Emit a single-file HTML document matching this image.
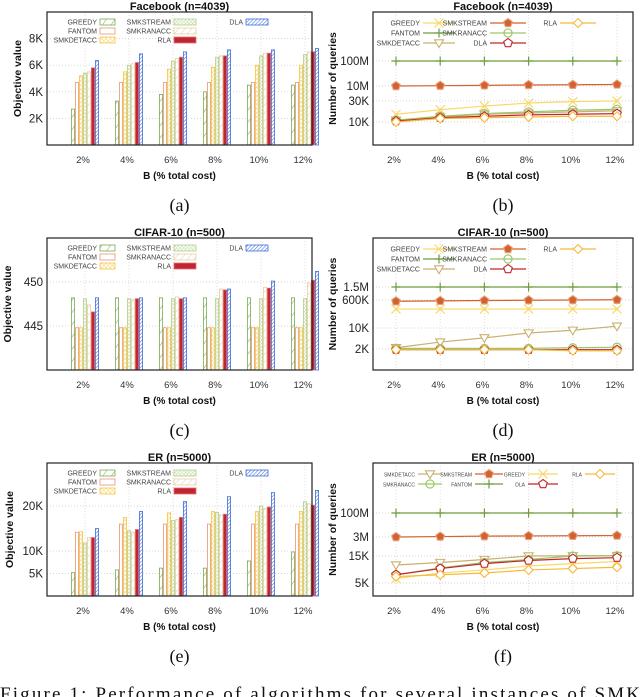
<!DOCTYPE html>
<html><head><meta charset="utf-8"><style>
html,body{margin:0;padding:0;background:#fff;width:640px;height:697px;overflow:hidden}
svg{display:block;font-family:"Liberation Sans",sans-serif}
</style></head><body>
<svg id="fig" width="640" height="697" viewBox="0 0 640 697" xmlns="http://www.w3.org/2000/svg">
<defs>
<pattern id="pGreedy" width="7" height="7" patternUnits="userSpaceOnUse" patternTransform="rotate(35)"><rect width="7" height="7" fill="#fff"/><line x1="0" y1="0" x2="0" y2="7" stroke="#7aab52" stroke-width="1"/></pattern>
<pattern id="pDet" width="3" height="3" patternUnits="userSpaceOnUse" patternTransform="rotate(45)"><rect width="3" height="3" fill="#fff"/><path d="M0 0H3M0 0V3" stroke="#f5c540" stroke-width="0.8"/></pattern>
<pattern id="pStream" width="2.5" height="2.5" patternUnits="userSpaceOnUse" patternTransform="rotate(45)"><rect width="2.5" height="2.5" fill="#fff"/><path d="M0 0H2.5M0 0V2.5" stroke="#b3d08c" stroke-width="0.8"/></pattern>
<pattern id="pRan" width="5" height="5" patternUnits="userSpaceOnUse" patternTransform="rotate(40)"><rect width="5" height="5" fill="#fff"/><line x1="0" y1="0" x2="0" y2="5" stroke="#e6cfa2" stroke-width="1"/></pattern>
<pattern id="pDla" width="2.6" height="2.6" patternUnits="userSpaceOnUse" patternTransform="rotate(45)"><rect width="2.6" height="2.6" fill="#fff"/><line x1="0" y1="0" x2="0" y2="2.6" stroke="#3d6fd9" stroke-width="1.1"/></pattern>
</defs>
<g id="root"></g>
<text x="0" y="700" font-family="Liberation Serif, serif" font-size="19" fill="#111" textLength="640" lengthAdjust="spacing">Figure 1:  Performance of algorithms for several instances of SMK</text>
</svg>
<script>
const NS='http://www.w3.org/2000/svg';
const root=document.getElementById('root');
function mk(tag,attrs,parent,text){const e=document.createElementNS(NS,tag);for(const k in attrs)e.setAttribute(k,attrs[k]);if(text!==undefined)e.textContent=text;(parent||root).appendChild(e);return e;}

const cats=['2%','4%','6%','8%','10%','12%'];

// (a) Facebook objective values
const fbObjGreedy=[2700,3300,3800,4000,4500,4500];
const fbObjFantom=[4700,4700,4700,4700,4700,4700];
const fbObjDet=[5200,5500,5700,5850,6000,6000];
const fbObjStream=[5400,6000,6300,6600,6700,6800];
const fbObjRan=[5500,6100,6500,6700,6900,7000];
const fbObjRla=[5800,6200,6600,6700,6900,7000];
const fbObjDla=[6350,6850,7000,7150,7150,7250];
const fbObjTicks=[2000,4000,6000,8000];
const fbObjTickLabels=['2K','4K','6K','8K'];

// (c) CIFAR-10 objective values
const cfObjGreedy=[448.2,448.2,448.2,448.2,448.2,448.2];
const cfObjFantom=[444.8,444.8,444.8,444.8,444.8,444.8];
const cfObjDet=[444.8,444.8,444.8,444.8,444.8,444.8];
const cfObjStream=[448.1,448.1,448.1,448.1,448.1,448.1];
const cfObjRan=[447.4,448.0,448.3,449.2,449.4,449.9];
const cfObjRla=[446.6,448.1,448.1,449.1,449.3,450.2];
const cfObjDla=[448.2,448.2,448.2,449.2,450.1,451.2];
const cfObjTicks=[445,450];
const cfObjTickLabels=['445','450'];

// (e) ER objective values
const erObjGreedy=[5200,5800,6200,6200,7800,9800];
const erObjFantom=[14200,16000,16000,16000,16000,16000];
const erObjDet=[14300,17500,18500,18800,18800,18800];
const erObjStream=[11800,14500,16800,18600,20000,21000];
const erObjRan=[13000,14200,17000,18000,19500,20500];
const erObjRla=[13000,14800,17500,18200,19800,20200];
const erObjDla=[15000,18800,21000,22100,23000,23500];
const erObjTicks=[5000,10000,20000];
const erObjTickLabels=['5K','10K','20K'];

// (b) Facebook queries
const fbQGreedy=[15000,19000,23000,27000,29000,31000];
const fbQFantom=[1e8,1e8,1e8,1e8,1e8,1e8];
const fbQDet=[11000,13000,15000,16000,17000,18000];
const fbQStream=[1e7,1.03e7,1.06e7,1.1e7,1.12e7,1.15e7];
const fbQRan=[11000,13500,15500,17000,18500,19500];
const fbQDla=[10500,12500,13500,14500,15000,15500];
const fbQRla=[10000,12000,12500,13000,13500,13500];
const fbQTicks=[10000,30000,1e7,1e8];
const fbQTickLabels=['10K','30K','10M','100M'];

// (d) CIFAR-10 queries
const cfQGreedy=[160000,160000,160000,160000,160000,160000];
const cfQFantom=[1.5e6,1.5e6,1.5e6,1.5e6,1.5e6,1.5e6];
const cfQDet=[2200,3400,4700,6800,8400,13000];
const cfQStream=[500000,530000,560000,580000,600000,610000];
const cfQRan=[2100,2100,2100,2100,2200,2300];
const cfQDla=[1900,1900,1900,1900,1900,1900];
const cfQRla=[1900,1900,1900,1900,1750,1750];
const cfQTicks=[2000,10000,600000,1.5e6];
const cfQTickLabels=['2K','10K','600K','1.5M'];

// (f) ER queries
const erQGreedy=[6000,7500,8500,10000,11000,12000];
const erQFantom=[1e8,1e8,1e8,1e8,1e8,1e8];
const erQDet=[10400,11500,13000,15000,16000,17000];
const erQStream=[3e6,3.2e6,3.4e6,3.5e6,3.6e6,3.7e6];
const erQRan=[7000,9200,11500,13000,15000,16000];
const erQDla=[7000,9000,11000,12500,13500,14000];
const erQRla=[6500,7000,7500,8500,9000,9500];
const erQTicks=[5000,15000,3e6,1e8];
const erQTickLabels=['5K','15K','3M','100M'];

// ---- axis functions ----
function lin(d0,d1,r0,r1){return v=>r0+(v-d0)/(d1-d0)*(r1-r0);}
function pwlog(vals,pxs){const L=vals.map(v=>Math.log10(v));return v=>{const l=Math.log10(v);let i=0;while(i<L.length-2&&l>L[i+1])i++;return pxs[i]+(l-L[i])/(L[i+1]-L[i])*(pxs[i+1]-pxs[i]);};}

const barStyles={
 GREEDY:{fill:'url(#pGreedy)',stroke:'#7aab52'},
 FANTOM:{fill:'#fff',stroke:'#e8957a'},
 SMKDETACC:{fill:'url(#pDet)',stroke:'#f5c540'},
 SMKSTREAM:{fill:'url(#pStream)',stroke:'#b3d08c'},
 SMKRANACC:{fill:'url(#pRan)',stroke:'#e6cfa2'},
 RLA:{fill:'#c1262f',stroke:'#e0707a'},
 DLA:{fill:'url(#pDla)',stroke:'#3d6fd9'}
};
const lineStyles={
 GREEDY:{c:'#f8d96a',m:'x'},FANTOM:{c:'#6e9e3c',m:'plus'},SMKDETACC:{c:'#c9b070',m:'tri'},
 SMKSTREAM:{c:'#d2622e',m:'pentF'},SMKRANACC:{c:'#9dc66b',m:'circ'},DLA:{c:'#c1262f',m:'pent'},RLA:{c:'#f5b93a',m:'diam'}
};

function frame(p){
 const g=mk('g',{});
 p.g=g;
 // grid
 p.ticks.forEach((t,i)=>{const y=p.y(t);
  const gl=mk('line',{x1:p.x0,x2:p.x1,y1:y,y2:y,stroke:'#c8c8c8','stroke-width':0.7,'stroke-dasharray':'1,2'},g);
  
  const tl=mk('text',{x:p.x0-4,y:y+4,'text-anchor':'end','font-size':11.5,fill:'#222'},g,p.tickLabels[i]);
  
 });
 cats.forEach((c,i)=>{const x=p.cx(i);
  const vl=mk('line',{x1:x,x2:x,y1:p.y0,y2:p.y1,stroke:'#d0d0d0','stroke-width':0.7,'stroke-dasharray':'1,2'},g);
  
  const xl=mk('text',{x:x-2,y:p.y1+18,'text-anchor':'middle','font-size':9.5,fill:'#333'},g,c);
  
 });
 const mid=(p.x0+p.x1)/2;
 const t=mk('text',{x:mid,y:p.y0-2,'text-anchor':'middle','font-size':11,'font-weight':'bold',fill:'#111'},g,p.title);
 
 const xt=mk('text',{x:mid,y:p.y1+34,'text-anchor':'middle','font-size':10,'font-weight':'bold',fill:'#111'},g,'B (% total cost)');
 
 const yt=mk('text',{x:p.ytx,y:(p.y0+p.y1)/2,'text-anchor':'middle','font-size':10.5,'font-weight':'bold',fill:'#111',transform:`rotate(-90 ${p.ytx} ${(p.y0+p.y1)/2})`},g,p.ytitle);
 
 const lt=mk('text',{x:mid,y:p.y1+66,'text-anchor':'middle','font-size':18,'font-family':'Liberation Serif, serif',fill:'#111'},g,p.letter);
 
}
function box(p){const b=mk('rect',{x:p.x0,y:p.y0,width:p.x1-p.x0,height:p.y1-p.y0,fill:'none',stroke:'#222','stroke-width':1.2},p.g);
 }

function barChart(p){
 frame(p);
 const base=p.y(p.base);
 p.series.forEach((s,k)=>{const st=barStyles[s.n];
  s.v.forEach((v,i)=>{const x=p.cx(i)-14+k*4;const y=p.y(v);
   const r=mk('rect',{x:x+0.4,y:y,width:3.2,height:base-y,fill:st.fill,stroke:st.stroke,'stroke-width':0.8},p.g);
   
   
  });
 });
 // legend
 p.legend.forEach(L=>{const st=barStyles[L.n];
  const t=mk('text',{x:L.x,y:L.y+2.5,'text-anchor':'end','font-size':7,fill:'#444'},p.g,L.n);
  
  const r=mk('rect',{x:L.x+3,y:L.y-3,width:L.w,height:6,fill:st.fill,stroke:st.stroke,'stroke-width':0.8},p.g);
  
 });
 box(p);
}
function marker(g,m,x,y,c){const r=4.5;let e;
 if(m==='x')e=mk('path',{d:`M${x-r} ${y-r}L${x+r} ${y+r}M${x-r} ${y+r}L${x+r} ${y-r}`,stroke:c,'stroke-width':1.2,fill:'none'},g);
 else if(m==='plus')e=mk('path',{d:`M${x-r} ${y}H${x+r}M${x} ${y-r}V${y+r}`,stroke:c,'stroke-width':1.2,fill:'none'},g);
 else if(m==='tri')e=mk('path',{d:`M${x-r} ${y-r*0.7}H${x+r}L${x} ${y+r}Z`,stroke:c,'stroke-width':1.1,fill:'#fff'},g);
 else if(m==='circ')e=mk('circle',{cx:x,cy:y,r:r*0.9,stroke:c,'stroke-width':1.2,fill:'none'},g);
 else if(m==='diam')e=mk('path',{d:`M${x} ${y-r}L${x+r} ${y}L${x} ${y+r}L${x-r} ${y}Z`,stroke:c,'stroke-width':1.1,fill:'#fff'},g);
 else{let d='';for(let j=0;j<5;j++){const a=-Math.PI/2+j*2*Math.PI/5;d+=(j?'L':'M')+(x+r*Math.cos(a)).toFixed(2)+' '+(y+r*Math.sin(a)).toFixed(2);}d+='Z';
  e=mk('path',{d:d,stroke:m==='pentF'?'#e8a080':c,'stroke-width':1.1,fill:m==='pentF'?c:'#fff'},g);}
 return e;}
function lineChart(p){
 frame(p);
 p.series.forEach(s=>{const st=lineStyles[s.n];
  const pts=s.v.map((v,i)=>[p.cx(i),p.y(v)]);
  const pl=mk('polyline',{points:pts.map(q=>q.join(',')).join(' '),fill:'none',stroke:st.c,'stroke-width':1.2},p.g);
  
  pts.forEach((q,i)=>{const e=marker(p.g,st.m,q[0],q[1],st.c);
   
   });
 });
 p.legend.forEach(L=>{const st=lineStyles[L.n];
  const t=mk('text',{x:L.x,y:L.y+2.5,'text-anchor':'end','font-size':p.lfs||7,fill:'#444'},p.g,L.n);
  
  const l=mk('line',{x1:L.x+3,x2:L.x+3+L.w,y1:L.y,y2:L.y,stroke:st.c,'stroke-width':1.2},p.g);
  
  const e=marker(p.g,st.m,L.x+3+L.w/2,L.y,st.c);
  
 });
 box(p);
}

const leftCx=i=>85+44*i, rightCx=i=>396+44.2*i;
function barLegend(top){return [
 {n:'GREEDY',x:97,y:top+10,w:15},{n:'SMKSTREAM',x:171,y:top+10,w:22},{n:'DLA',x:243,y:top+10,w:22},
 {n:'FANTOM',x:97,y:top+19,w:15},{n:'SMKRANACC',x:171,y:top+19,w:22},
 {n:'SMKDETACC',x:97,y:top+28,w:15},{n:'RLA',x:171,y:top+28,w:22}];}
function lineLegend(top){return [
 {n:'GREEDY',x:420,y:top+11,w:32},{n:'SMKSTREAM',x:487,y:top+11,w:36},{n:'RLA',x:557,y:top+11,w:36},
 {n:'FANTOM',x:420,y:top+21,w:32},{n:'SMKRANACC',x:487,y:top+21,w:36},
 {n:'SMKDETACC',x:420,y:top+31,w:32},{n:'DLA',x:487,y:top+31,w:36}];}
function barSeries(g,f,d,s,r,rl,dl){return [{n:'GREEDY',v:g},{n:'FANTOM',v:f},{n:'SMKDETACC',v:d},{n:'SMKSTREAM',v:s},{n:'SMKRANACC',v:r},{n:'RLA',v:rl},{n:'DLA',v:dl}];}
function lineSeries(g,f,d,s,r,dl,rl){return [{n:'FANTOM',v:f},{n:'SMKSTREAM',v:s},{n:'GREEDY',v:g},{n:'SMKDETACC',v:d},{n:'SMKRANACC',v:r},{n:'DLA',v:dl},{n:'RLA',v:rl}];}

barChart({name:'chart-a-facebook-objective',x0:47,x1:312,y0:12,y1:145,cx:leftCx,y:lin(0,10000,145,12),base:0,
 ticks:fbObjTicks,tickLabels:fbObjTickLabels,title:'Facebook (n=4039)',ytitle:'Objective value',ytx:21,letter:'(a)',
 series:barSeries(fbObjGreedy,fbObjFantom,fbObjDet,fbObjStream,fbObjRan,fbObjRla,fbObjDla),legend:barLegend(12)});
barChart({name:'chart-c-cifar-objective',x0:47,x1:312,y0:238,y1:370,cx:leftCx,y:lin(440,455,370,238),base:440,
 ticks:cfObjTicks,tickLabels:cfObjTickLabels,title:'CIFAR-10 (n=500)',ytitle:'Objective value',ytx:11,letter:'(c)',
 series:barSeries(cfObjGreedy,cfObjFantom,cfObjDet,cfObjStream,cfObjRan,cfObjRla,cfObjDla),legend:barLegend(238)});
barChart({name:'chart-e-er-objective',x0:47,x1:312,y0:463,y1:596,cx:leftCx,y:lin(0,29600,596,463),base:0,
 ticks:erObjTicks,tickLabels:erObjTickLabels,title:'ER (n=5000)',ytitle:'Objective value',ytx:13,letter:'(e)',
 series:barSeries(erObjGreedy,erObjFantom,erObjDet,erObjStream,erObjRan,erObjRla,erObjDla),legend:barLegend(463)});

lineChart({name:'chart-b-facebook-queries',x0:373,x1:633,y0:12,y1:145,cx:rightCx,y:pwlog(fbQTicks,[122,101,86,61]),
 ticks:fbQTicks,tickLabels:fbQTickLabels,title:'Facebook (n=4039)',ytitle:'Number of queries',ytx:336,letter:'(b)',
 series:lineSeries(fbQGreedy,fbQFantom,fbQDet,fbQStream,fbQRan,fbQDla,fbQRla),legend:lineLegend(12)});
lineChart({name:'chart-d-cifar-queries',x0:373,x1:633,y0:238,y1:370,cx:rightCx,y:pwlog(cfQTicks,[349,328,300,287]),
 ticks:cfQTicks,tickLabels:cfQTickLabels,title:'CIFAR-10 (n=500)',ytitle:'Number of queries',ytx:336,letter:'(d)',
 series:lineSeries(cfQGreedy,cfQFantom,cfQDet,cfQStream,cfQRan,cfQDla,cfQRla),legend:lineLegend(238)});
lineChart({name:'chart-f-er-queries',x0:373,x1:633,y0:463,y1:596,cx:rightCx,y:pwlog(erQTicks,[583,556,537,513]),
 ticks:erQTicks,tickLabels:erQTickLabels,title:'ER (n=5000)',ytitle:'Number of queries',ytx:336,letter:'(f)',lfs:5,
 series:lineSeries(erQGreedy,erQFantom,erQDet,erQStream,erQRan,erQDla,erQRla),
 legend:[{n:'SMKDETACC',x:415,y:474,w:24},{n:'SMKSTREAM',x:472,y:474,w:28},{n:'GREEDY',x:525,y:474,w:30},{n:'RLA',x:582,y:474,w:30},
  {n:'SMKRANACC',x:415,y:484,w:24},{n:'FANTOM',x:472,y:484,w:28},{n:'DLA',x:525,y:484,w:30}]});
</script>
</body></html>
